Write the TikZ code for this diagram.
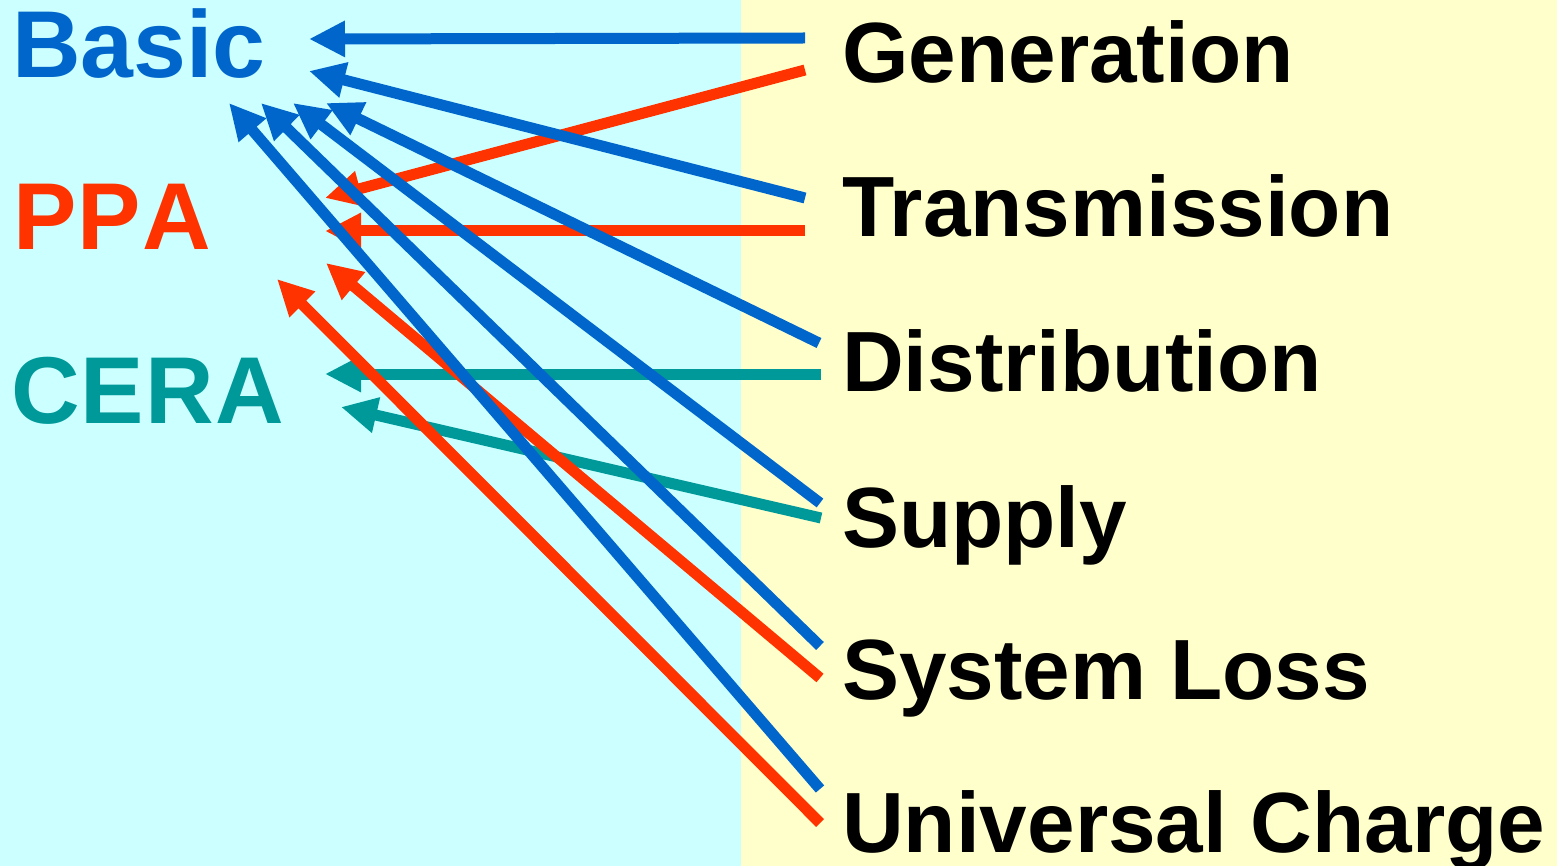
\documentclass[tikz,border=0pt]{standalone}
\usepackage{fontspec}
\setmainfont{Liberation Sans}
\usetikzlibrary{arrows.meta}
\definecolor{cBlue}{HTML}{0066CC}
\definecolor{cRed}{HTML}{FF3300}
\definecolor{cTeal}{HTML}{009999}
\definecolor{bgLeft}{HTML}{CCFFFF}
\definecolor{bgRight}{HTML}{FFFFCC}
\begin{document}
\begin{tikzpicture}[x=1pt,y=-1pt,
  tariff/.style={anchor=base west,inner sep=0pt,font=\fontsize{95}{95}\selectfont\bfseries},
  component/.style={anchor=base west,inner sep=0pt,font=\fontsize{85.5}{85.5}\selectfont\bfseries},
  link/.style={line width=11pt,line cap=butt,-{Triangle[length=36pt,width=34pt]}}]
\useasboundingbox (0,0) rectangle (1557,866);
% two background panels
\fill[bgLeft] (0,0) rectangle (741,866);
\fill[bgRight] (741,0) rectangle (1557,866);

% rate categories
\node[tariff,text=cBlue] (basic) at (12,78) {Basic};
\node[tariff,text=cRed] (ppa) at (13,250) {P\kern1ptP\kern2ptA};
\node[tariff,text=cTeal] (cera) at (11,423) {C\kern1ptE\kern1ptR\kern2ptA};

% cost components
\node[component] (gen) at (842,83) {Generation};
\node[component] (trans) at (842,237) {Transmission};
\node[component] (dist) at (842,391) {Distribution};
\node[component] (supply) at (842,547) {Supply};
\node[component] (loss) at (842,699) {System Loss};
\node[component] (univ) at (842,852) {Universal Charge};

% arrow start points beside the components
\coordinate (genA) at (805,38);
\coordinate (genB) at (805,70);
\coordinate (transA) at (805,198);
\coordinate (transB) at (805,231);
\coordinate (distA) at (819,343);
\coordinate (distB) at (821,374);
\coordinate (supA) at (820,503);
\coordinate (supB) at (821,518);
\coordinate (lossA) at (820,646);
\coordinate (lossB) at (820,678);
\coordinate (univA) at (820,789);
\coordinate (univB) at (820,823);

% arrow tips beside the categories
\coordinate (basic1) at (309,39);
\coordinate (basic2) at (309,71);
\coordinate (basic3) at (326,103);
\coordinate (basic4) at (293,103);
\coordinate (basic5) at (261,103);
\coordinate (basic6) at (229,103);
\coordinate (ppa1) at (325,198);
\coordinate (ppa2) at (325,231);
\coordinate (ppa3) at (326,263);
\coordinate (ppa4) at (277,279);
\coordinate (cera1) at (325,374);
\coordinate (cera2) at (341,407);

% connectors
\draw[link,cTeal] (distB) -- (cera1);
\draw[link,cTeal] (supB) -- (cera2);
\draw[link,cRed] (genB) -- (ppa1);
\draw[link,cRed] (transB) -- (ppa2);
\draw[link,cRed] (lossB) -- (ppa3);
\draw[link,cRed] (univB) -- (ppa4);
\draw[link,cBlue] (genA) -- (basic1);
\draw[link,cBlue] (transA) -- (basic2);
\draw[link,cBlue] (distA) -- (basic3);
\draw[link,cBlue] (supA) -- (basic4);
\draw[link,cBlue] (lossA) -- (basic5);
\draw[link,cBlue] (univA) -- (basic6);
\end{tikzpicture}
\end{document}
